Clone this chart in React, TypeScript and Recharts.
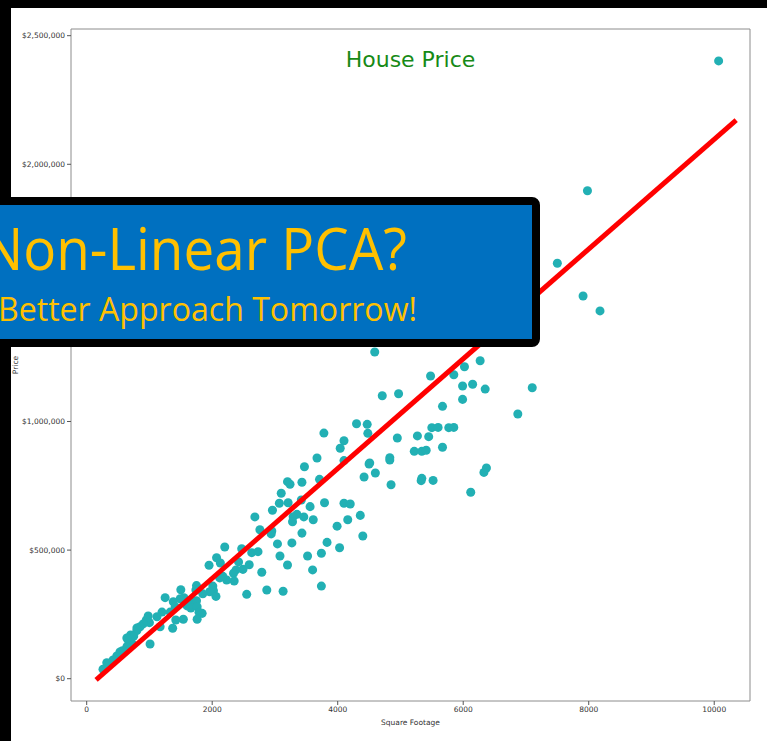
import { ScatterChart, Scatter, XAxis, YAxis, ZAxis, ReferenceLine } from "recharts";

// square footage / sale price
const sqft = [
  10070, 7980, 7500, 7910, 8180, 4590, 6270, 6020, 5850, 5480, 5990, 6150, 6350, 7100, 5990, 5670,
  4710, 4970, 6870, 5500, 5600, 5770, 5850, 4950, 5270, 5450, 5670, 5220, 5340, 5410, 4510, 4830,
  4830, 6370, 6330, 5340, 5330, 5520, 4850, 6120, 4300, 4470, 4480, 3780, 4100, 4040, 4100, 3670,
  3470, 4500, 4420, 4600, 3200, 3240, 3430, 3710, 3100, 3070, 3210, 3420, 3560, 3790, 4100, 4200,
  2960, 3350, 3290, 3280, 3460, 3610, 4360, 4160, 3990, 4400, 2680, 2760, 2950, 2940, 3040, 3430,
  3270, 3830, 4030, 3740, 3520, 3080, 3200, 3600, 3740, 3130, 2870, 2790, 2550, 2630, 2730, 2470,
  2590, 2490, 2420, 2200, 2070, 2130, 1950, 2380, 2340, 2230, 2170, 2350, 2120, 2010, 2020, 1960,
  2060, 1850, 1750, 1740, 1500, 1550, 1490, 1380, 1250, 1670, 1750, 1600, 1660, 1760, 1790, 1840,
  1410, 1330, 1200, 1120, 980, 1540, 1760, 950, 1420, 1000, 900, 850, 1170, 1370, 800, 700,
  660, 720, 640, 1010, 570, 480, 420, 320, 260, 750, 640, 800, 530, 370,
];
const price = [
  2402000, 1897000, 1615000, 1488000, 1430000, 1270000, 1236000, 1213000, 1182000, 1177000, 1138000, 1145000, 1126000, 1131000, 1086000, 1059000,
  1100000, 1108000, 1029000, 976000, 977000, 976000, 977000, 936000, 944000, 941000, 900000, 884000, 884000, 888000, 839000, 859000,
  850000, 819000, 802000, 779000, 770000, 771000, 754000, 725000, 991000, 989000, 954000, 955000, 925000, 896000, 848000, 858000,
  824000, 835000, 784000, 800000, 766000, 756000, 764000, 775000, 721000, 682000, 684000, 695000, 669000, 684000, 682000, 679000,
  655000, 639000, 630000, 610000, 629000, 618000, 635000, 618000, 593000, 555000, 629000, 579000, 574000, 563000, 524000, 566000,
  528000, 530000, 509000, 488000, 477000, 477000, 442000, 423000, 360000, 340000, 345000, 414000, 328000, 490000, 494000, 505000,
  443000, 425000, 454000, 512000, 470000, 450000, 441000, 423000, 410000, 384000, 398000, 380000, 392000, 360000, 342000, 338000,
  320000, 330000, 362000, 345000, 346000, 315000, 311000, 299000, 315000, 299000, 303000, 283000, 275000, 280000, 258000, 254000,
  280000, 259000, 259000, 241000, 244000, 231000, 231000, 228000, 228000, 218000, 213000, 202000, 202000, 196000, 187000, 170000,
  150000, 138000, 124000, 135000, 109000, 88000, 73000, 62000, 37000, 166000, 158000, 197000, 104000, 57000,
];

// regression line end points
const fitX = [150, 10350];
const fitY = [-4600, 2172000];

const xTicks = [0, 2000, 4000, 6000, 8000, 10000];
const yTicks = [0, 500000, 1000000, 1500000, 2000000, 2500000];

const points = sqft.map((s, i) => ({ sqft: s, price: price[i] }));
const fitLine = fitX.map((s, i) => ({ sqft: s, price: fitY[i] }));

const X_MIN = -250;
const X_MAX = 10570;
const Y_MIN = -86700;
const Y_MAX = 2526000;

const spine = "#8c8c8c";
const tickStyle = { fontSize: 7.5, fill: "#333", fontFamily: "DejaVu Sans" };

const money = (v: number) => "$" + v.toLocaleString("en-US");

export default function App() {
  return (
    <div style={{ position: "absolute", left: 0, top: 0, width: 767, height: 741, background: "#000", overflow: "hidden" }}>
      <div style={{ position: "absolute", left: 11, top: 8, width: 756, height: 733, background: "#fff" }} />
      <div style={{ position: "absolute", left: 0, top: 0 }}>
        <ScatterChart width={767} height={741} margin={{ top: 29, right: 17, bottom: 10, left: 11 }}>
          <XAxis
            type="number"
            dataKey="sqft"
            domain={[X_MIN, X_MAX]}
            ticks={xTicks}
            height={30}
            allowDataOverflow
            tick={tickStyle}
            tickSize={4}
            stroke={spine}
            tickLine={{ stroke: "#555" }}
            label={{ value: "Square Footage", position: "insideBottom", offset: 6, style: { fontSize: 7.5, fill: "#333", fontFamily: "DejaVu Sans" } }}
          />
          <YAxis
            type="number"
            dataKey="price"
            domain={[Y_MIN, Y_MAX]}
            ticks={yTicks}
            width={60}
            allowDataOverflow
            tickFormatter={money}
            tick={tickStyle}
            tickSize={4}
            stroke={spine}
            tickLine={{ stroke: "#555" }}
            label={{ value: "Price", angle: -90, position: "insideLeft", offset: 4, style: { fontSize: 7.5, fill: "#333", fontFamily: "DejaVu Sans", textAnchor: "middle" } }}
          />
          <ZAxis range={[40, 40]} />
          <ReferenceLine x={X_MAX} stroke={spine} />
          <ReferenceLine y={Y_MAX} stroke={spine} />
          <Scatter data={points} fill="#22b0b4" isAnimationActive={false} />
          <Scatter
            data={fitLine}
            line={{ stroke: "#ff0000", strokeWidth: 5 }}
            shape={() => <g />}
            isAnimationActive={false}
          />
        </ScatterChart>
      </div>
      <svg width={767} height={741} style={{ position: "absolute", left: 0, top: 0 }}>
        <text x={410.5} y={67} textAnchor="middle" fontSize={22} fill="#168a16" fontFamily="DejaVu Sans">
          House Price
        </text>
        <rect x={-20} y={201} width={556} height={142} rx={4} fill="#0070c0" stroke="#000" strokeWidth={8} />
        <text x={-18} y={270} fontSize={58} fill="#ffc000" fontFamily="Open Sans" textLength={425} lengthAdjust="spacingAndGlyphs">
          Non-Linear PCA?
        </text>
        <text x={-2} y={321} fontSize={32} fill="#ffc000" fontFamily="Open Sans" textLength={419} lengthAdjust="spacingAndGlyphs">
          Better Approach Tomorrow!
        </text>
      </svg>
    </div>
  );
}
